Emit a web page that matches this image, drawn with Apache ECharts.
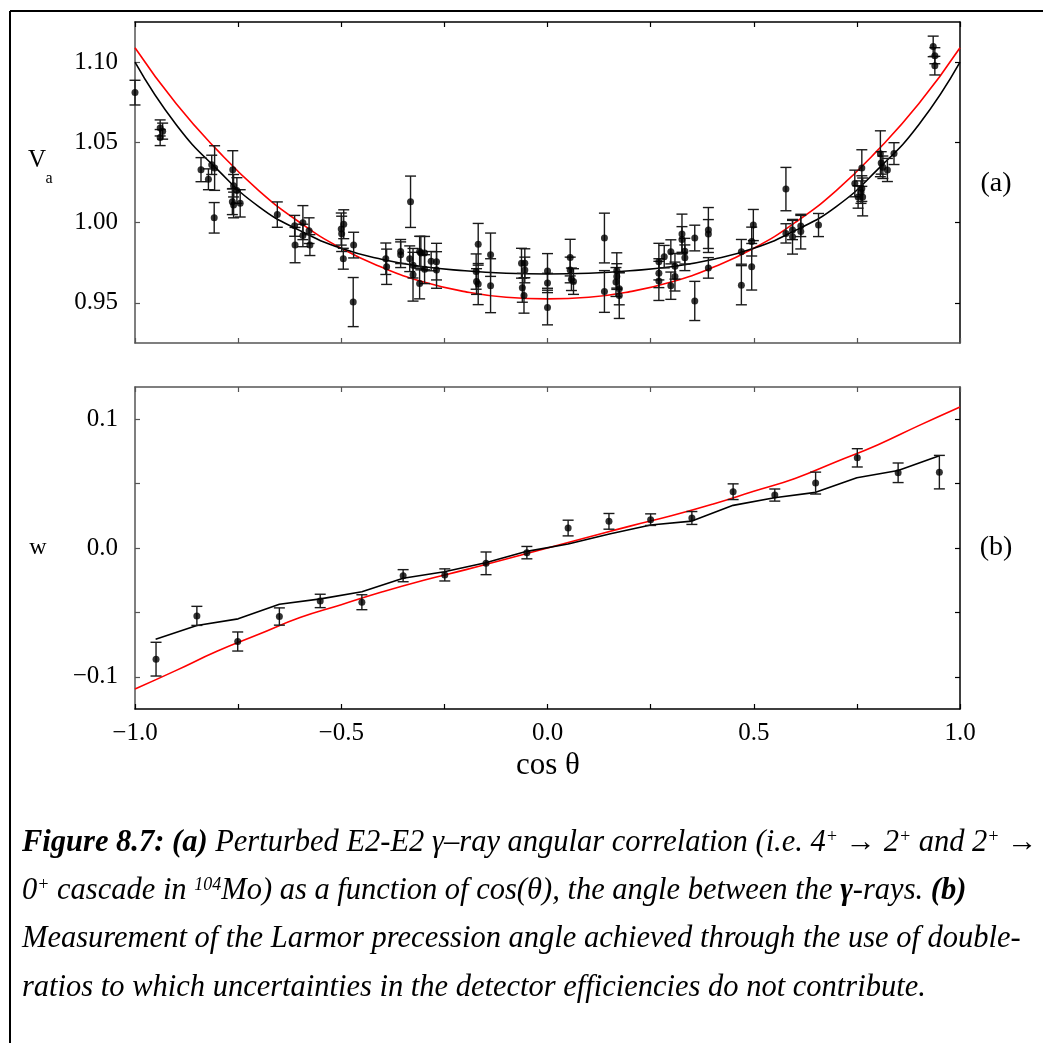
<!DOCTYPE html>
<html>
<head>
<meta charset="utf-8">
<script src="https://cdn.jsdelivr.net/npm/echarts@6/dist/echarts.min.js"></script>
<style>
html, body { margin: 0; padding: 0; background: #fff; }
#chart { width: 1043px; height: 1043px; }
</style>
</head>
<body>
<div id="chart"></div>
<script>
// (a) measured angular correlation points
var topCos = [-1.000,-0.939,-0.939,-0.933,-0.840,-0.822,-0.814,-0.807,-0.808,-0.763,-0.761,-0.753,-0.764,-0.761,-0.745,
  -0.655,-0.613,-0.593,-0.593,-0.612,-0.578,-0.576,-0.500,-0.499,-0.494,-0.495,-0.470,-0.471,-0.392,-0.390,
  -0.356,-0.356,-0.332,-0.334,-0.326,-0.326,-0.310,-0.310,-0.307,-0.298,-0.298,-0.282,-0.269,-0.269,
  -0.173,-0.168,-0.172,-0.168,-0.138,-0.138,-0.063,-0.055,-0.055,-0.061,-0.057,0.000,0.000,0.000,
  0.055,0.055,0.058,0.063,0.138,0.138,0.168,0.168,0.166,0.174,0.174,0.270,0.270,0.270,0.283,0.299,0.299,
  0.309,0.309,0.326,0.326,0.333,0.333,0.357,0.357,0.390,0.390,0.390,0.470,0.470,0.495,0.499,0.495,
  0.578,0.578,0.594,0.594,0.614,0.614,0.657,0.745,0.762,0.753,0.762,0.764,0.760,0.807,0.809,0.813,0.824,0.840,
  0.935,0.939,0.939];
var topW = [1.081,1.059,1.053,1.057,1.033,1.027,1.036,1.034,1.003,1.033,1.023,1.020,1.013,1.011,1.012,
  1.005,0.998,1.000,0.992,0.986,0.995,0.986,0.996,0.993,0.999,0.9775,0.986,0.9505,0.9775,0.9725,
  0.982,0.980,1.013,0.9775,0.9735,0.9675,0.982,0.962,0.981,0.981,0.971,0.976,0.9757,0.9705,
  0.9695,0.9865,0.9633,0.9617,0.980,0.9607,0.9747,0.9747,0.9705,0.9594,0.9546,0.9699,0.9624,0.9471,
  0.9782,0.9705,0.9647,0.9633,0.9904,0.9571,0.9664,0.9702,0.963,0.9588,0.9546,0.9757,0.9685,0.9637,0.9788,0.9818,0.9607,
  0.9728,0.9664,0.9929,0.9895,0.9822,0.9781,0.9904,0.9512,0.9954,0.9929,0.9718,0.9818,0.961,0.9882,0.9985,0.9725,
  1.0209,0.9933,0.9954,0.9912,0.9979,0.9944,0.9985,1.0244,1.034,1.016,1.0212,1.016,1.019,1.0429,1.0372,1.0345,1.0328,1.043,
  1.1098,1.104,1.0978];
var topErr = [0.0077,0.005,0.005,0.005,0.0075,0.0065,0.006,0.0139,0.0095,0.0118,0.007,0.008,0.008,0.008,0.0085,
  0.0079,0.0065,0.0106,0.007,0.011,0.008,0.0065,0.010,0.011,0.009,0.0065,0.008,0.0153,0.0098,0.011,
  0.0075,0.008,0.016,0.008,0.008,0.0164,0.0095,0.0095,0.0104,0.0104,0.009,0.006,0.0114,0.0114,
  0.011,0.013,0.008,0.0128,0.0135,0.0168,0.0093,0.009,0.008,0.009,0.011,0.0108,0.006,0.0108,
  0.0114,0.008,0.007,0.008,0.0155,0.013,0.008,0.011,0.009,0.010,0.0143,0.0114,0.009,0.0122,0.007,0.0075,0.0085,
  0.008,0.009,0.0124,0.008,0.008,0.008,0.008,0.0122,0.014,0.009,0.0064,0.0077,0.0122,0.009,0.0097,0.0145,
  0.0135,0.006,0.006,0.0108,0.0066,0.0108,0.0072,0.0083,0.0114,0.007,0.008,0.0118,0.007,0.0143,0.007,0.007,0.0072,0.0068,
  0.0064,0.005,0.0058];

// (a) fitted (black) and unperturbed (red) curves
var curveCos = [-1.0,-0.9,-0.8,-0.7,-0.6,-0.5,-0.4,-0.3,-0.2,-0.1,0.0,0.1,0.2,0.3,0.4,0.5,0.6,0.7,0.8,0.9,1.0];
var topFit = [1.100,1.061,1.033,1.010,0.995,0.984,0.977,0.9725,0.970,0.9685,0.968,0.9685,0.970,0.9725,0.977,0.984,0.995,1.010,1.033,1.061,1.100];
var topRed = [1.109,1.074,1.045,1.020,1.000,0.984,0.972,0.963,0.957,0.9535,0.9525,0.9535,0.957,0.963,0.972,0.984,1.000,1.020,1.045,1.074,1.109];

// (b) double-ratio points
var botCos = [-0.949,-0.850,-0.751,-0.650,-0.551,-0.450,-0.350,-0.249,-0.149,-0.050,0.050,0.149,0.250,0.350,0.450,0.551,0.650,0.751,0.850,0.950];
var botW = [-0.0863,-0.0527,-0.0726,-0.0532,-0.0411,-0.0421,-0.0215,-0.0209,-0.0119,-0.0036,0.0155,0.0207,0.0220,0.0233,0.0437,0.0411,0.0504,0.0700,0.0584,0.0589];
var botErr = [0.0131,0.0074,0.0074,0.0067,0.0052,0.0058,0.0047,0.0047,0.0088,0.0048,0.0061,0.0061,0.0045,0.0050,0.0061,0.0047,0.0085,0.0071,0.0076,0.0130];
var botFitCos = [-0.95,-0.85,-0.75,-0.65,-0.55,-0.45,-0.35,-0.25,-0.15,-0.05,0.05,0.15,0.25,0.35,0.45,0.55,0.65,0.75,0.85,0.95];
var botFit = [-0.0708,-0.0602,-0.055,-0.0437,-0.0395,-0.0339,-0.0235,-0.0184,-0.0114,-0.0026,0.0031,0.0109,0.0178,0.0209,0.0331,0.039,0.0432,0.0545,0.0602,0.0716];
var botRed = [-0.1095,-0.095,-0.080,-0.067,-0.054,-0.044,-0.034,-0.025,-0.017,-0.0085,0.0,0.0085,0.017,0.025,0.034,0.044,0.054,0.067,0.080,0.095,0.1095];

// ticks
var xTicks = [-1,-0.75,-0.5,-0.25,0,0.25,0.5,0.75,1];
var xLabels = [-1,-0.5,0,0.5,1];
var topYTicks = [0.95,1.0,1.05,1.10];
var botYTicks = [-0.1,-0.05,0,0.05,0.1];
var botYLabels = [-0.1,0,0.1];

var SERIF = '"Liberation Serif", "Times New Roman", serif';

function zip(xs, ys, es) {
    return xs.map(function (x, i) { return es ? [x, ys[i], es[i]] : [x, ys[i]]; });
}
function minus(s) { return s.replace('-', '\u2212'); }

function xAxis(grid, pos, color, labels) {
    return {
        type: 'value', gridIndex: grid, position: pos, min: -1, max: 1,
        axisLine: { show: true, onZero: false, lineStyle: { color: color, width: 1.5 } },
        axisTick: { show: true, inside: true, length: 5, customValues: xTicks, lineStyle: { color: color, width: 1.2 } },
        axisLabel: { show: labels, customValues: xLabels, margin: 12, color: '#000', fontFamily: SERIF, fontSize: 25,
            formatter: function (v) { return minus(v.toFixed(1)); } },
        splitLine: { show: false }
    };
}
function yAxis(grid, pos, color, min, max, ticks, labels, digits) {
    return {
        type: 'value', gridIndex: grid, position: pos, min: min, max: max,
        axisLine: { show: true, onZero: false, lineStyle: { color: color, width: 1.5 } },
        axisTick: { show: true, inside: true, length: 5, customValues: ticks, lineStyle: { color: color, width: 1.2 } },
        axisLabel: { show: !!labels, customValues: labels || ticks, margin: 17, color: '#000', fontFamily: SERIF, fontSize: 25,
            formatter: function (v) { return minus(v.toFixed(digits)); } },
        splitLine: { show: false }
    };
}

function errItem(params, api) {
    var x = api.value(0), y = api.value(1), e = api.value(2);
    var hi = api.coord([x, y + e]), lo = api.coord([x, y - e]);
    var w = 5.5;
    var st = { stroke: '#1a1a1a', lineWidth: 1.4 };
    return {
        type: 'group', children: [
            { type: 'line', shape: { x1: hi[0], y1: hi[1], x2: lo[0], y2: lo[1] }, style: st },
            { type: 'line', shape: { x1: hi[0] - w, y1: hi[1], x2: hi[0] + w, y2: hi[1] }, style: st },
            { type: 'line', shape: { x1: lo[0] - w, y1: lo[1], x2: lo[0] + w, y2: lo[1] }, style: st }
        ]
    };
}

function lineSeries(xi, yi, data, color, smooth) {
    return { type: 'line', xAxisIndex: xi, yAxisIndex: yi, data: data, smooth: smooth, showSymbol: false,
        lineStyle: { color: color, width: 1.6 }, z: 2, silent: true };
}
function errSeries(xi, yi, data) {
    return { type: 'custom', xAxisIndex: xi, yAxisIndex: yi, data: data, renderItem: errItem,
        encode: { x: 0, y: 1 }, z: 3, silent: true };
}
function dotSeries(xi, yi, data) {
    return { type: 'scatter', xAxisIndex: xi, yAxisIndex: yi, data: data, symbol: 'circle', symbolSize: 7,
        itemStyle: { color: '#000' }, z: 4, silent: true };
}

function txt(x, y, text, size, align, style) {
    return { type: 'text', x: x, y: y, silent: true,
        style: { text: text, fill: '#000', fontFamily: SERIF, fontSize: size, fontStyle: style || 'normal',
            textAlign: align || 'center', textVerticalAlign: 'middle' } };
}

var CAP = 30.5;
var rich = {
    b: { fontFamily: SERIF, fontSize: CAP, fontStyle: 'italic', fontWeight: 'bold', fill: '#000' },
    s: { fontFamily: SERIF, fontSize: 18, fontStyle: 'italic', verticalAlign: 'top', fill: '#000' },
    g: { fontFamily: SERIF, fontSize: CAP, fontStyle: 'italic', fill: '#000' },
    gb: { fontFamily: SERIF, fontSize: CAP, fontStyle: 'italic', fontWeight: 'bold', fill: '#000' }
};
function capLine(y, text) {
    return { type: 'text', x: 22, y: y, silent: true,
        style: { text: text, rich: rich, fill: '#000', fontFamily: SERIF, fontSize: CAP, fontStyle: 'italic',
            textAlign: 'left', textVerticalAlign: 'middle' } };
}

var chart = echarts.init(document.getElementById('chart'));
chart.setOption({
    animation: false,
    backgroundColor: '#fff',
    grid: [
        { left: 135, top: 22, width: 825, height: 321 },
        { left: 135, top: 387, width: 825, height: 322 }
    ],
    xAxis: [
        xAxis(0, 'bottom', '#555', false),
        xAxis(0, 'top', '#000', false),
        xAxis(1, 'bottom', '#000', true),
        xAxis(1, 'top', '#555', false)
    ],
    yAxis: [
        yAxis(0, 'left', '#555', 0.925, 1.125, topYTicks, topYTicks, 2),
        yAxis(0, 'right', '#000', 0.925, 1.125, topYTicks, null, 2),
        yAxis(1, 'left', '#555', -0.125, 0.125, botYTicks, botYLabels, 1),
        yAxis(1, 'right', '#000', -0.125, 0.125, botYTicks, null, 1)
    ],
    series: [
        lineSeries(0, 0, zip(curveCos, topRed), '#ff0000', true),
        lineSeries(0, 0, zip(curveCos, topFit), '#000', true),
        errSeries(0, 0, zip(topCos, topW, topErr)),
        dotSeries(0, 0, zip(topCos, topW)),
        lineSeries(2, 2, zip(curveCos, botRed), '#ff0000', true),
        lineSeries(2, 2, zip(botFitCos, botFit), '#000', false),
        errSeries(2, 2, zip(botCos, botW, botErr)),
        dotSeries(2, 2, zip(botCos, botW))
    ],
    graphic: [
        { type: 'line', silent: true, shape: { x1: 10, y1: 11, x2: 1043, y2: 11 }, style: { stroke: '#000', lineWidth: 2 } },
        { type: 'line', silent: true, shape: { x1: 10, y1: 11, x2: 10, y2: 1043 }, style: { stroke: '#000', lineWidth: 2 } },
        txt(37, 160, 'V', 25),
        txt(49, 179, 'a', 16),
        txt(38, 548, 'w', 24),
        txt(996, 184, '(a)', 28),
        txt(996, 548, '(b)', 28),
        txt(548, 766, 'cos \u03b8', 31),
        capLine(843, '{b|Figure 8.7: (a)} Perturbed E2-E2 {g|\u03b3}\u2013ray angular correlation (i.e. 4{s|+} \u2192 2{s|+} and 2{s|+} \u2192'),
        capLine(891, '0{s|+} cascade in {s|104}Mo) as a function of cos(\u03b8), the angle between the {gb|\u03b3}-rays. {b|(b)}'),
        capLine(939, 'Measurement of the Larmor precession angle achieved through the use of double-'),
        capLine(988, 'ratios to which uncertainties in the detector efficiencies do not contribute.')
    ]
});
</script>
</body>
</html>
